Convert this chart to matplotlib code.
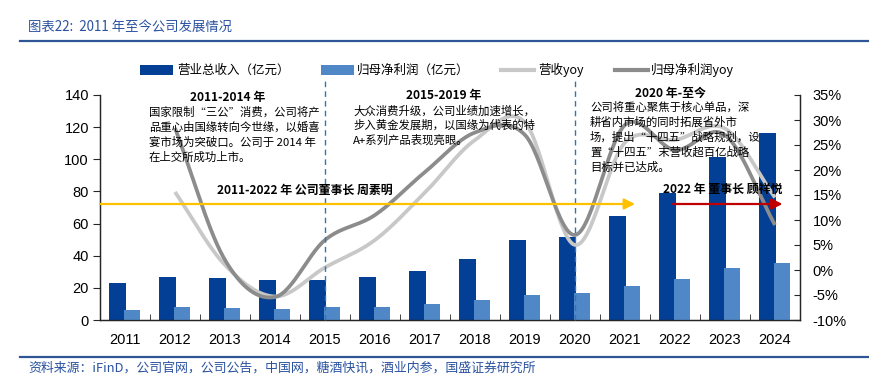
import numpy as np
import matplotlib
matplotlib.use('Agg')
import matplotlib.pyplot as plt
from matplotlib.patches import Patch
from matplotlib.lines import Line2D

plt.rcParams['font.family'] = ['Noto Sans CJK SC', 'DejaVu Sans']

# ---------------- data ----------------
years = ['2011', '2012', '2013', '2014', '2015', '2016', '2017',
         '2018', '2019', '2020', '2021', '2022', '2023', '2024']
revenue = [23.2, 27.0, 25.9, 24.7, 25.2, 26.5, 30.3, 38.2, 49.6, 51.8, 64.7, 79.2, 101.6, 116.2]
profit = [6.2, 7.9, 7.5, 7.0, 7.8, 8.3, 9.8, 12.4, 15.3, 16.6, 21.2, 25.7, 32.2, 35.3]
# yoy series start in 2012
revenue_yoy = [15.6, 1.0, -5.3, 0.5, 6.0, 15.5, 26.0, 29.5, 5.0, 25.5, 26.0, 28.3, 14.5]
profit_yoy = [28.4, 2.0, -5.4, 6.0, 11.0, 19.6, 27.5, 27.0, 7.0, 29.0, 24.0, 27.0, 9.0]
left_ticks = [0, 20, 40, 60, 80, 100, 120, 140]
right_ticks = [-10, -5, 0, 5, 10, 15, 20, 25, 30, 35]

legend_labels = ['营业总收入（亿元）', '归母净利润（亿元）', '营收yoy', '归母净利润yoy']

# ---------------- style ----------------
C_REV = '#023F95'
C_PRO = '#5087C7'
C_LY = '#C8C8C8'
C_DY = '#8C8C8C'
C_BLUE_T = '#2A52A0'
W, H = 870, 380
TICK_FONT = ['Liberation Sans Narrow', 'Liberation Sans', 'DejaVu Sans']


def fx(x):
    return x / W


def fy(y):
    return 1 - y / H


def smooth(xs, ys, n=30):
    """Catmull-Rom style smoothing through the given points."""
    xs = np.asarray(xs, float)
    ys = np.asarray(ys, float)
    m = np.zeros_like(ys)
    m[1:-1] = (ys[2:] - ys[:-2]) / 2.0
    m[0] = (ys[1] - ys[0])
    m[-1] = (ys[-1] - ys[-2])
    ox, oy = [], []
    for i in range(len(xs) - 1):
        t = np.linspace(0, 1, n, endpoint=(i == len(xs) - 2))
        h00 = 2 * t**3 - 3 * t**2 + 1
        h10 = t**3 - 2 * t**2 + t
        h01 = -2 * t**3 + 3 * t**2
        h11 = t**3 - t**2
        ox.append(xs[i] + t * (xs[i + 1] - xs[i]))
        oy.append(h00 * ys[i] + h10 * m[i] + h01 * ys[i + 1] + h11 * m[i + 1])
    return np.concatenate(ox), np.concatenate(oy)


fig = plt.figure(figsize=(W / 100, H / 100), dpi=100)
ax = fig.add_axes([fx(100), fy(320), 700 / W, 225 / H])
ax2 = ax.twinx()

x = np.arange(len(years))
bw = 0.33
ax.bar(x - 0.145, revenue, width=bw, color=C_REV, zorder=2)
ax.bar(x + 0.145, profit, width=bw, color=C_PRO, zorder=3)

ax.set_xlim(-0.5, len(years) - 0.5)
ax.set_ylim(0, 140)
ax2.set_ylim(-10, 35)

xy = x[1:]
sx, sy = smooth(xy, revenue_yoy)
ax2.plot(sx, sy, color=C_LY, lw=2.7, solid_capstyle='butt', zorder=3)
sx, sy = smooth(xy, profit_yoy)
ax2.plot(sx, sy, color=C_DY, lw=2.7, solid_capstyle='butt', zorder=4)

# dashed vertical separators (2015, 2020)
for xi in (4, 9):
    ax2.axvline(xi, ymin=0, ymax=(320 - 78) / 225, color='#2E75B6', lw=1.0,
                ls=(0, (4, 3)), clip_on=False, zorder=5)

# arrows
yarrow = (320 - 204) / 225
ax2.annotate('', xy=(10.2, yarrow), xytext=(-0.5, yarrow),
             xycoords=('data', 'axes fraction'), textcoords=('data', 'axes fraction'),
             arrowprops=dict(arrowstyle='-|>', color='#FFC000', lw=1.6,
                             mutation_scale=16, shrinkA=0, shrinkB=0), zorder=5)
ax2.annotate('', xy=(13.15, yarrow), xytext=(10.96, yarrow),
             xycoords=('data', 'axes fraction'), textcoords=('data', 'axes fraction'),
             arrowprops=dict(arrowstyle='-|>', color='#C00000', lw=1.6,
                             mutation_scale=16, shrinkA=0, shrinkB=0), zorder=5)

# axes styling
for a in (ax, ax2):
    a.spines['top'].set_visible(False)
    for s in ('left', 'right', 'bottom'):
        a.spines[s].set_color('#262626')
        a.spines[s].set_linewidth(0.9)

ax.set_xticks(x)
ax.set_xticklabels(years, fontfamily=TICK_FONT, fontsize=10.5)
ax.set_xticks(np.arange(-0.5, len(years), 1), minor=True)
ax.tick_params(axis='x', which='major', length=0, pad=9)
ax.tick_params(axis='x', which='minor', length=4, direction='in', color='#262626')

ax.set_yticks(left_ticks)
ax.set_yticklabels([str(v) for v in left_ticks], fontfamily=TICK_FONT, fontsize=10.5)
ax.tick_params(axis='y', length=5, direction='out', color='#262626', pad=3)

ax2.set_yticks(right_ticks)
ax2.set_yticklabels([f'{v}%' for v in right_ticks], fontfamily=TICK_FONT, fontsize=10.5)
ax2.tick_params(axis='y', length=4, direction='in', color='#262626', pad=9)

# legend
handles = [Patch(facecolor=C_REV), Patch(facecolor=C_PRO),
           Line2D([0], [0], color=C_LY, lw=3), Line2D([0], [0], color=C_DY, lw=3)]
fig.legend(handles, legend_labels, loc='center left', bbox_to_anchor=(fx(140), fy(70)),
           ncol=4, frameon=False, fontsize=9, handlelength=2.64, handleheight=0.8,
           handletextpad=0.3, columnspacing=2.5, borderpad=0, borderaxespad=0)

# title & footer
fig.text(fx(28), fy(27), '图表22:  2011 年至今公司发展情况', fontsize=9.6, color=C_BLUE_T,
         style='italic', va='center', ha='left')
fig.add_artist(Line2D([fx(20), 1.0], [fy(41), fy(41)], color='#2F5597', lw=1.6))
fig.add_artist(Line2D([fx(20), 1.0], [fy(357), fy(357)], color='#2F5597', lw=1.6))
fig.text(fx(28), fy(368), '资料来源：iFinD，公司官网，公司公告，中国网，糖酒快讯，酒业内参，国盛证券研究所',
         fontsize=9.3, color=C_BLUE_T, style='italic', va='center', ha='left')

# annotation blocks
TS = 8.2


def block(title, tx, ty, lines, lx, ly0, dy):
    fig.text(fx(tx), fy(ty), title, fontsize=8.6, fontweight='bold', ha='center',
             va='center', zorder=10)
    for i, ln in enumerate(lines):
        fig.text(fx(lx), fy(ly0 + i * dy), ln, fontsize=TS, ha='left', va='center', zorder=10)


block('2011-2014 年', 228, 97,
      ['国家限制“三公”消费，公司将产', '品重心由国缘转向今世缘，以婚喜',
       '宴市场为突破口。公司于 2014 年', '在上交所成功上市。'],
      149, 112, 15)
block('2015-2019 年', 444, 95,
      ['大众消费升级，公司业绩加速增长，', '步入黄金发展期，以国缘为代表的特',
       'A+系列产品表现亮眼。'],
      353, 111, 14.5)
block('2020 年-至今', 670, 93,
      ['公司将重心聚焦于核心单品，深', '耕省内市场的同时拓展省外市',
       '场，提出“十四五”战略规划，设', '置“十四五”末营收超百亿战略',
       '目标并已达成。'],
      590, 107, 15)

fig.text(fx(305), fy(190), '2011-2022 年 公司董事长 周素明', fontsize=8.6, fontweight='bold',
         ha='center', va='center', zorder=10)
fig.text(fx(723), fy(189), '2022 年 董事长 顾祥悦', fontsize=8.6, fontweight='bold',
         ha='center', va='center', zorder=10)

fig.savefig('out.png', dpi=100)
